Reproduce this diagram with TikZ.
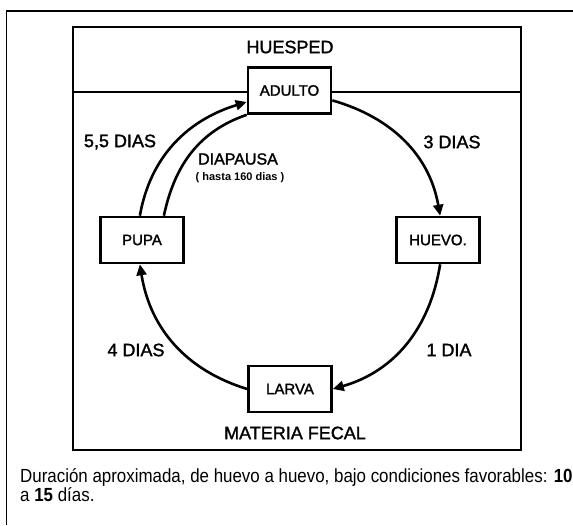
\documentclass[tikz,border=0pt]{standalone}
\usepackage{fontspec}
\setmainfont{Liberation Sans}
\newfontfamily\rotfont[FakeBold=1.6]{Liberation Sans}
\usetikzlibrary{arrows.meta}

\begin{document}
\begin{tikzpicture}[x=1pt,y=1pt,
    caja/.style={draw,line width=2.6pt,fill=white,minimum width=83pt,minimum height=46pt,inner sep=0pt,font=\rotfont\fontsize{15}{17}\selectfont},
    rotulo/.style={inner sep=0pt,font=\rotfont\fontsize{18}{20}\selectfont},
    flecha/.style={line width=2.6pt,-{Triangle[length=11pt,width=10pt]}}]

    \useasboundingbox (0,0) rectangle (573,-525);

    \draw[line width=1.8pt] (573,-11) -- (6.5,-11) -- (6.5,-525);
    \draw[line width=2.8pt] (73,-27) rectangle (521,-450);
    \draw[line width=2.4pt] (73,-92) -- (521,-92);

    \node[caja] (adulto) at (289.5,-90.5) {ADULTO};
    \node[caja] (pupa) at (142,-240) {PUPA};
    \node[caja] (huevo) at (438,-240) {HUEVO.};
    \node[caja] (larva) at (290,-389) {LARVA};

    \draw[flecha] (adulto.-13) to[out=-16,in=100] (huevo.85);
    \draw[flecha] (huevo.-85) to[out=-99,in=16] (larva.east);
    \draw[flecha] (larva.west) to[out=163,in=-81] (pupa.-95);
    \draw[flecha] (pupa.95) to[out=80,in=197] (adulto.195);
    \draw[line width=2.6pt] (pupa.48) to[out=78,in=199] (adulto.south west);

    \node[rotulo] (huesped) at (290,-47) {HUESPED};
    \node[rotulo] (t55) at (120,-142) {5,5 DIAS};
    \node[rotulo] (t3) at (452,-142) {3 DIAS};
    \node[rotulo,font=\rotfont\fontsize{16}{18}\selectfont] (diapausa) at (238,-159) {DIAPAUSA};
    \node[rotulo,font=\bfseries\fontsize{11}{13}\selectfont] (hasta) at (240,-178) {( hasta 160 dias )};
    \node[rotulo] (t4) at (136,-350) {4 DIAS};
    \node[rotulo] (t1) at (449,-350) {1 DIA};
    \node[rotulo] (materia) at (295,-433) {MATERIA FECAL};

    \node[inner sep=0pt,anchor=base west,font=\fontsize{19}{21}\selectfont] (nota1) at (20,-482)
        {\scalebox{0.89}[1]{Duración aproximada, de huevo a huevo, bajo condiciones favorables: \textbf{10}}};
    \node[inner sep=0pt,anchor=base west,font=\fontsize{19}{21}\selectfont] (nota2) at (20,-501)
        {\scalebox{0.89}[1]{a \textbf{15} días.}};
\end{tikzpicture}
\end{document}
